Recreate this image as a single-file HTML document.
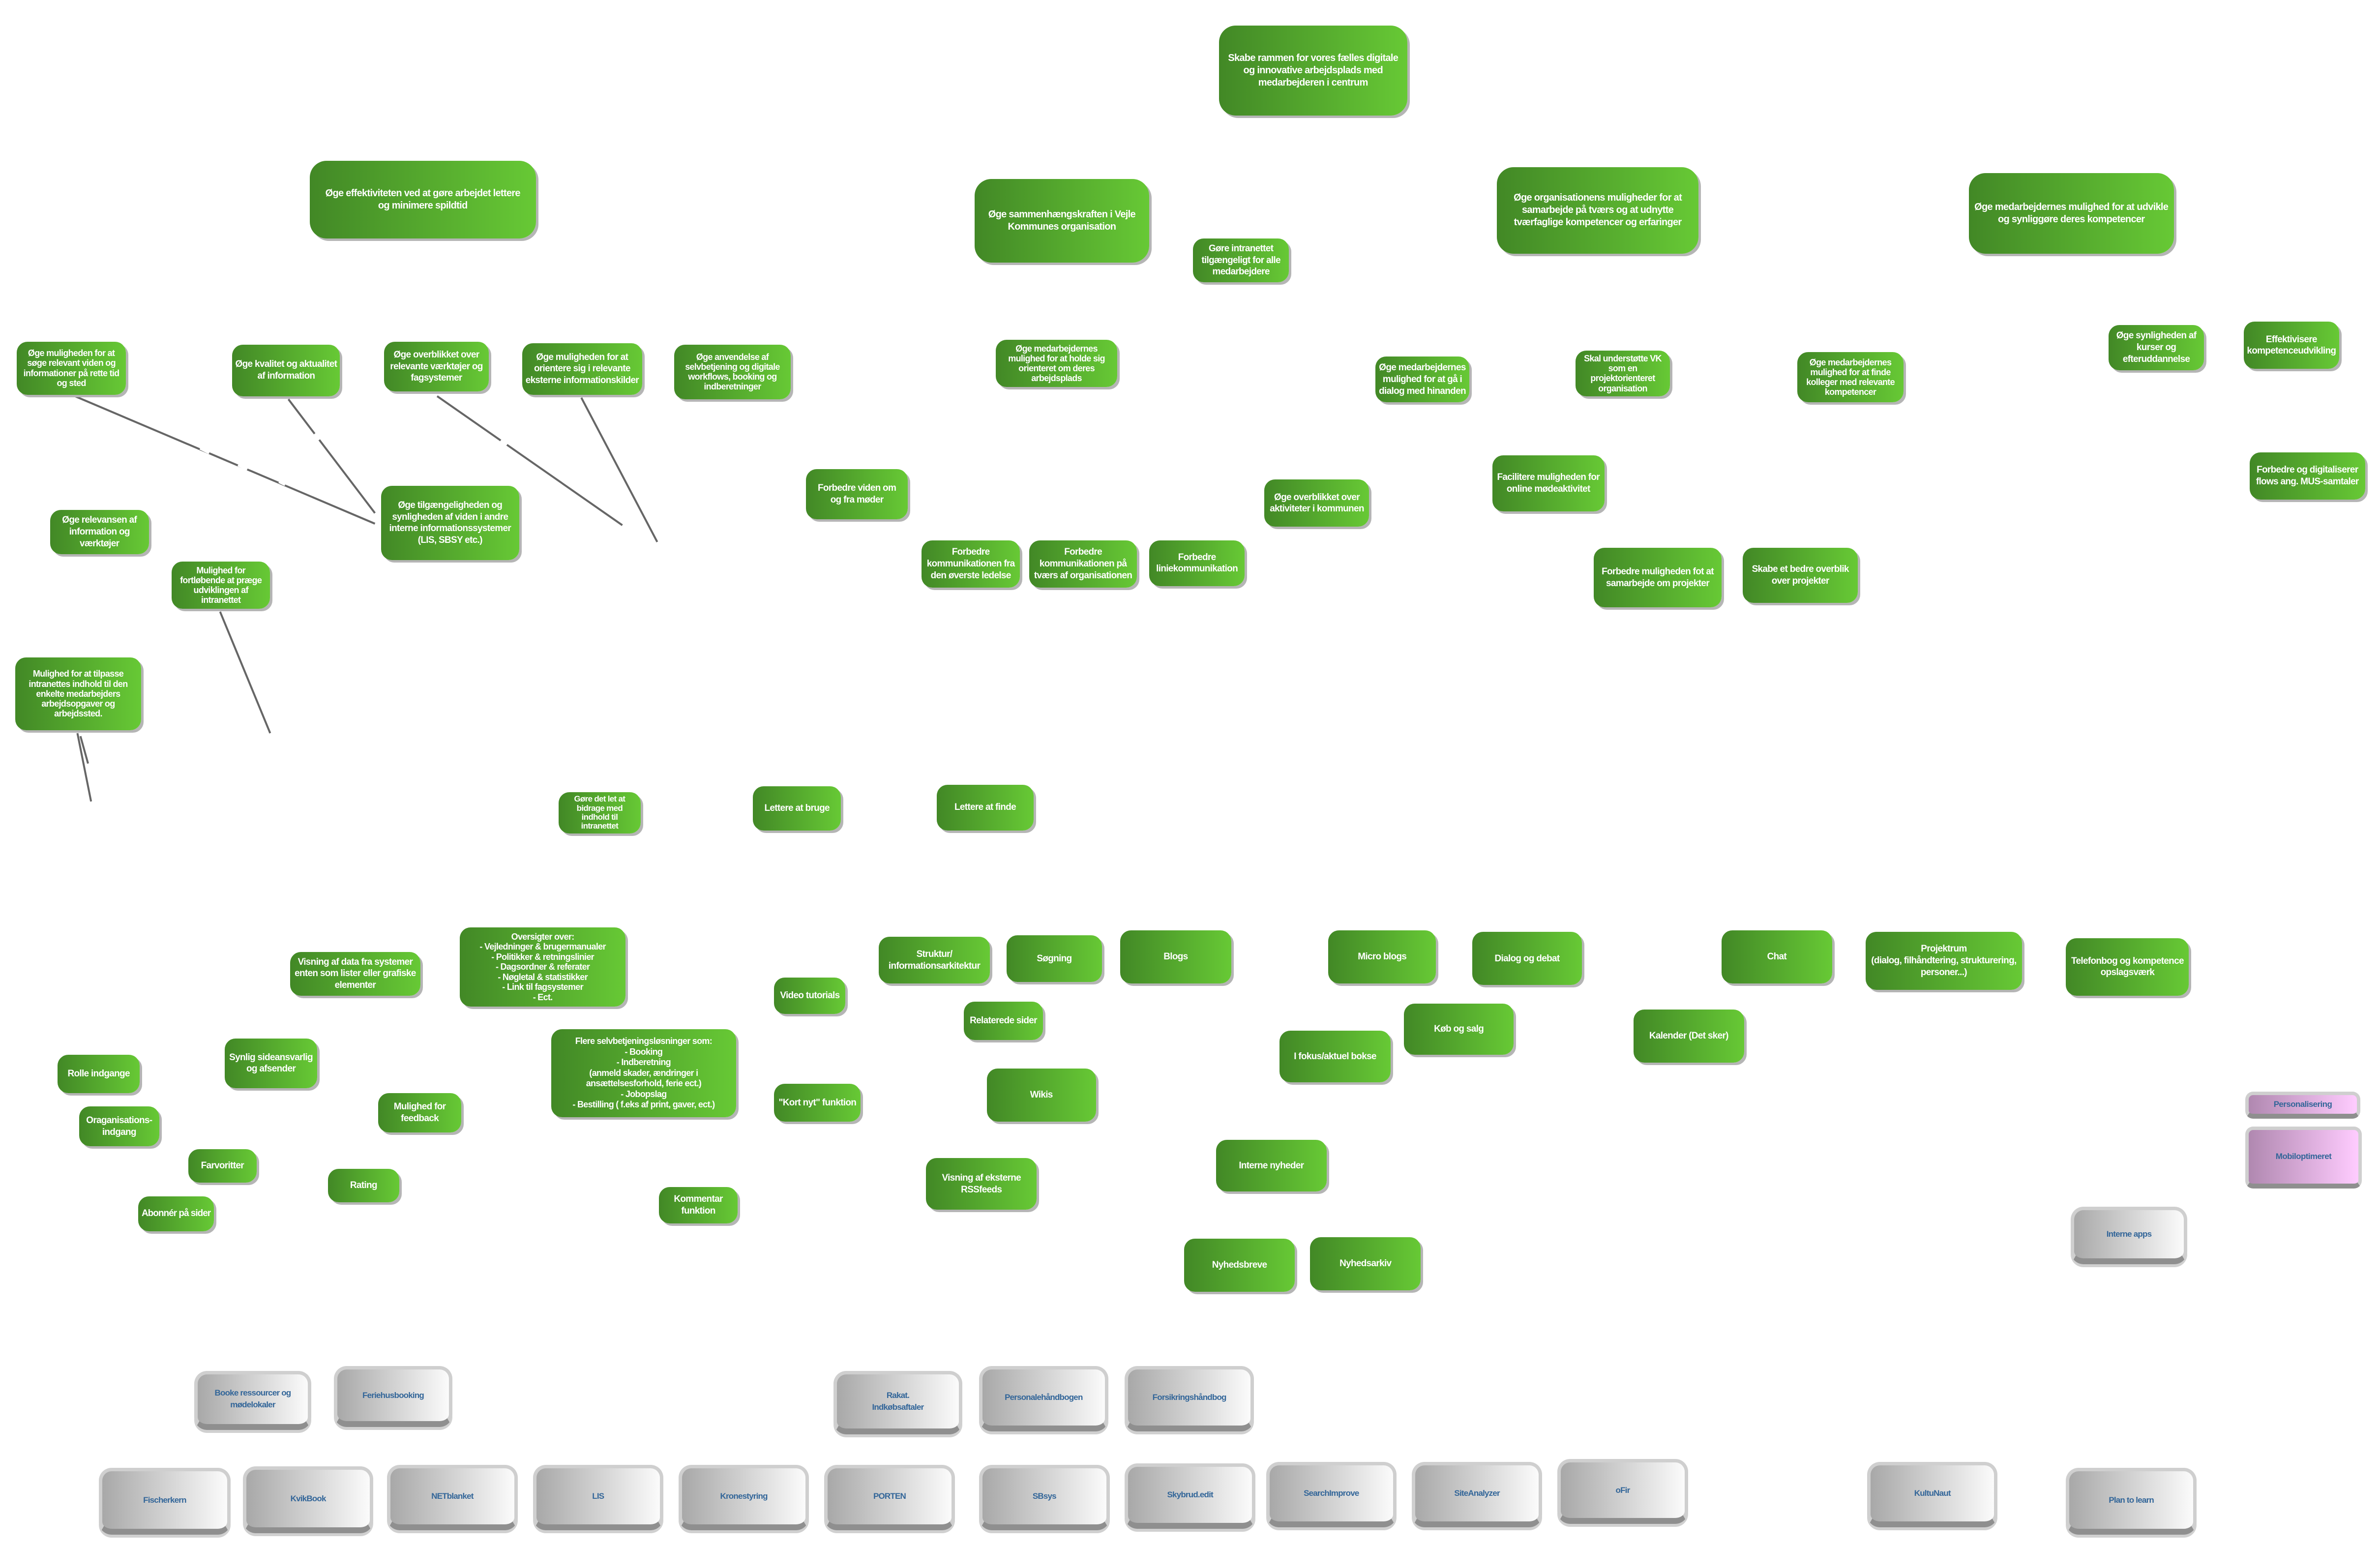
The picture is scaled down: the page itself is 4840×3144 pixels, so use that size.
<!DOCTYPE html>
<html><head><meta charset="utf-8">
<style>
html,body{margin:0;padding:0;background:#fff;}
#c{position:relative;width:4840px;height:3144px;overflow:hidden;background:#fff;font-family:"Liberation Sans",Arial,sans-serif;}
.b{position:absolute;left:calc(var(--x)*3.087px);top:calc(var(--y)*3.087px);width:calc((var(--r) - var(--x))*3.087px);height:calc((var(--t) - var(--y))*3.087px);
box-sizing:border-box;display:flex;align-items:center;justify-content:center;text-align:center;white-space:nowrap;}
.g{background:linear-gradient(90deg,#428826,#67c935);border-radius:22px;box-shadow:5px 5px 0 #b5b5b5;color:#fff;font-weight:bold;font-size:19px;line-height:1.25;letter-spacing:-0.7px;padding:0;}
.g.L{font-size:20px;border-radius:34px;}
.g.T{font-size:18px;line-height:1.12;}
.gr{background:linear-gradient(90deg,#a8a8a8,#fbfbfb);border:7px solid #cfcfcf;border-bottom:12px solid #8f8f8f;border-radius:26px;color:#336699;font-weight:bold;font-size:17px;letter-spacing:-0.8px;line-height:1.4;box-shadow:0 6px 0 #d0d0d0;}
.pk{background:linear-gradient(90deg,#b088b0,#ffccff);border:7px solid #cfcfcf;border-bottom:10px solid #8f8f8f;border-radius:16px;color:#336699;font-weight:bold;font-size:17px;letter-spacing:-0.6px;}
svg{position:absolute;left:0;top:0;}
</style></head><body><div id="c">
<svg width="4840" height="3144" viewBox="0 0 1568 1018.5" preserveAspectRatio="none">
<g stroke="#666" stroke-width="1.3" fill="none">
<line x1="47" y1="260" x2="247" y2="345"/>
<line x1="190" y1="263" x2="247" y2="338"/>
<line x1="288" y1="261" x2="410" y2="346"/>
<line x1="383" y1="262" x2="433" y2="357"/>
<line x1="145" y1="403" x2="178" y2="483"/>
<line x1="51" y1="483" x2="60" y2="528"/>
<line x1="53" y1="485" x2="58" y2="503"/>
</g>
<g stroke="#fff" stroke-width="2.5">
<line x1="132" y1="295" x2="138" y2="298"/><line x1="157" y1="306" x2="163" y2="309"/><line x1="184" y1="317" x2="188" y2="319"/>
<line x1="207" y1="286" x2="210" y2="290"/><line x1="330" y1="290" x2="334" y2="293"/>
</g>
</svg>

<div class="b g L" style="--x:803;--y:17;--r:927;--t:76">Skabe rammen for vores fælles digitale<br>og innovative arbejdsplads med<br>medarbejderen i centrum</div>
<div class="b g L" style="--x:204;--y:106;--r:353;--t:157">Øge effektiviteten ved at gøre arbejdet lettere<br>og minimere spildtid</div>
<div class="b g L" style="--x:642;--y:118;--r:757;--t:173">Øge sammenhængskraften i Vejle<br>Kommunes organisation</div>
<div class="b g" style="--x:786;--y:157;--r:849;--t:186">Gøre intranettet<br>tilgængeligt for alle<br>medarbejdere</div>
<div class="b g L" style="--x:986;--y:110;--r:1119;--t:167">Øge organisationens muligheder for at<br>samarbejde på tværs og at udnytte<br>tværfaglige kompetencer og erfaringer</div>
<div class="b g L" style="--x:1297;--y:114;--r:1432;--t:167">Øge medarbejdernes mulighed for at udvikle<br>og synliggøre deres kompetencer</div>

<div class="b g T" style="--x:11;--y:225;--r:83;--t:260">Øge muligheden for at<br>søge relevant viden og<br>informationer på rette tid<br>og sted</div>
<div class="b g" style="--x:153;--y:227;--r:224;--t:261">Øge kvalitet og aktualitet<br>af information</div>
<div class="b g" style="--x:253;--y:225;--r:322;--t:258">Øge overblikket over<br>relevante værktøjer og<br>fagsystemer</div>
<div class="b g" style="--x:344;--y:226;--r:423;--t:260">Øge muligheden for at<br>orientere sig i relevante<br>eksterne informationskilder</div>
<div class="b g T" style="--x:444;--y:227;--r:521;--t:263">Øge anvendelse af<br>selvbetjening og digitale<br>workflows, booking og<br>indberetninger</div>
<div class="b g T" style="--x:656;--y:224;--r:736;--t:255">Øge medarbejdernes<br>mulighed for at holde sig<br>orienteret om deres<br>arbejdsplads</div>
<div class="b g" style="--x:906;--y:235;--r:968;--t:265">Øge medarbejdernes<br>mulighed for at gå i<br>dialog med hinanden</div>
<div class="b g T" style="--x:1038;--y:231;--r:1100;--t:261">Skal understøtte VK<br>som en<br>projektorienteret<br>organisation</div>
<div class="b g T" style="--x:1184;--y:232;--r:1254;--t:265">Øge medarbejdernes<br>mulighed for at finde<br>kolleger med relevante<br>kompetencer</div>
<div class="b g" style="--x:1389;--y:214;--r:1452;--t:244">Øge synligheden af<br>kurser og<br>efteruddannelse</div>
<div class="b g" style="--x:1478;--y:212;--r:1541;--t:243">Effektivisere<br>kompetenceudvikling</div>
<div class="b g" style="--x:1482;--y:298;--r:1558;--t:329">Forbedre og digitaliserer<br>flows ang. MUS-samtaler</div>

<div class="b g" style="--x:251;--y:320;--r:342;--t:369">Øge tilgængeligheden og<br>synligheden af viden i andre<br>interne informationssystemer<br>(LIS, SBSY etc.)</div>
<div class="b g" style="--x:33;--y:336;--r:98;--t:365">Øge relevansen af<br>information og<br>værktøjer</div>
<div class="b g T" style="--x:113;--y:370;--r:178;--t:401">Mulighed for<br>fortløbende at præge<br>udviklingen af<br>intranettet</div>
<div class="b g T" style="--x:10;--y:433;--r:93;--t:481">Mulighed for at tilpasse<br>intranettes indhold til den<br>enkelte medarbejders<br>arbejdsopgaver og<br>arbejdssted.</div>
<div class="b g" style="--x:531;--y:309;--r:598;--t:342">Forbedre viden om<br>og fra møder</div>
<div class="b g" style="--x:607;--y:356;--r:672;--t:387">Forbedre<br>kommunikationen fra<br>den øverste ledelse</div>
<div class="b g" style="--x:678;--y:356;--r:749;--t:387">Forbedre<br>kommunikationen på<br>tværs af organisationen</div>
<div class="b g" style="--x:757;--y:356;--r:820;--t:386">Forbedre<br>liniekommunikation</div>
<div class="b g" style="--x:833;--y:316;--r:902;--t:347">Øge overblikket over<br>aktiviteter i kommunen</div>
<div class="b g" style="--x:983;--y:300;--r:1057;--t:337">Facilitere muligheden for<br>online mødeaktivitet</div>
<div class="b g" style="--x:1050;--y:361;--r:1134;--t:400">Forbedre muligheden fot at<br>samarbejde om projekter</div>
<div class="b g" style="--x:1148;--y:361;--r:1224;--t:397">Skabe et bedre overblik<br>over projekter</div>

<div class="b g" style="--x:368;--y:522;--r:422;--t:549;font-size:17px;line-height:1.08">Gøre det let at<br>bidrage med<br>indhold til<br>intranettet</div>
<div class="b g" style="--x:496;--y:518;--r:554;--t:547">Lettere at bruge</div>
<div class="b g" style="--x:617;--y:517;--r:681;--t:547">Lettere at finde</div>

<div class="b g" style="--x:191;--y:627;--r:277;--t:656">Visning af data fra systemer<br>enten som lister eller grafiske<br>elementer</div>
<div class="b g" style="--x:303;--y:611;--r:412;--t:663;font-size:18px;line-height:1.14">Oversigter over:<br>- Vejledninger &amp; brugermanualer<br>- Politikker &amp; retningslinier<br>- Dagsordner &amp; referater<br>- Nøgletal &amp; statistikker<br>- Link til fagsystemer<br>- Ect.</div>
<div class="b g" style="--x:363;--y:678;--r:485;--t:736;font-size:18px;line-height:1.2">Flere selvbetjeningsløsninger som:<br>- Booking<br>- Indberetning<br>(anmeld skader, ændringer i<br>ansættelsesforhold, ferie ect.)<br>- Jobopslag<br>- Bestilling ( f.eks af print, gaver, ect.)</div>
<div class="b g" style="--x:510;--y:644;--r:557;--t:668">Video tutorials</div>
<div class="b g" style="--x:579;--y:617;--r:652;--t:648">Struktur/<br>informationsarkitektur</div>
<div class="b g" style="--x:663;--y:616;--r:726;--t:647">Søgning</div>
<div class="b g" style="--x:738;--y:613;--r:811;--t:648">Blogs</div>
<div class="b g" style="--x:635;--y:660;--r:687;--t:685">Relaterede sider</div>
<div class="b g" style="--x:650;--y:704;--r:722;--t:739">Wikis</div>
<div class="b g" style="--x:510;--y:714;--r:567;--t:739">"Kort nyt" funktion</div>
<div class="b g" style="--x:610;--y:763;--r:683;--t:797">Visning af eksterne<br>RSSfeeds</div>
<div class="b g" style="--x:875;--y:613;--r:946;--t:648">Micro blogs</div>
<div class="b g" style="--x:970;--y:614;--r:1042;--t:649">Dialog og debat</div>
<div class="b g" style="--x:1134;--y:613;--r:1207;--t:648">Chat</div>
<div class="b g" style="--x:1229;--y:614;--r:1332;--t:652">Projektrum<br>(dialog, filhåndtering, strukturering,<br>personer...)</div>
<div class="b g" style="--x:1361;--y:618;--r:1442;--t:656">Telefonbog og kompetence<br>opslagsværk</div>
<div class="b g" style="--x:925;--y:661;--r:997;--t:695">Køb og salg</div>
<div class="b g" style="--x:843;--y:679;--r:916;--t:713">I fokus/aktuel bokse</div>
<div class="b g" style="--x:1076;--y:665;--r:1149;--t:700">Kalender (Det sker)</div>
<div class="b g" style="--x:801;--y:751;--r:874;--t:785">Interne nyheder</div>
<div class="b g" style="--x:780;--y:816;--r:853;--t:851">Nyhedsbreve</div>
<div class="b g" style="--x:863;--y:815;--r:936;--t:850">Nyhedsarkiv</div>

<div class="b g" style="--x:38;--y:695;--r:92;--t:720">Rolle indgange</div>
<div class="b g" style="--x:148;--y:684;--r:209;--t:717">Synlig sideansvarlig<br>og afsender</div>
<div class="b g" style="--x:52;--y:729;--r:105;--t:755">Oraganisations-<br>indgang</div>
<div class="b g" style="--x:249;--y:720;--r:304;--t:746">Mulighed for<br>feedback</div>
<div class="b g" style="--x:124;--y:757;--r:169;--t:779">Farvoritter</div>
<div class="b g" style="--x:216;--y:770;--r:263;--t:792">Rating</div>
<div class="b g" style="--x:91;--y:788;--r:141;--t:811;letter-spacing:-1px">Abonnér på sider</div>
<div class="b g" style="--x:434;--y:782;--r:486;--t:806">Kommentar<br>funktion</div>

<div class="b pk" style="--x:1479;--y:719;--r:1555;--t:737">Personalisering</div>
<div class="b pk" style="--x:1479;--y:742;--r:1556;--t:783">Mobiloptimeret</div>

<div class="b gr" style="--x:1364;--y:795;--r:1441;--t:833">Interne apps</div>
<div class="b gr" style="--x:128;--y:903;--r:205;--t:942">Booke ressourcer og<br>mødelokaler</div>
<div class="b gr" style="--x:220;--y:900;--r:298;--t:940">Feriehusbooking</div>
<div class="b gr" style="--x:549;--y:903;--r:634;--t:945">Rakat.<br>Indkøbsaftaler</div>
<div class="b gr" style="--x:645;--y:900;--r:730;--t:943">Personalehåndbogen</div>
<div class="b gr" style="--x:741;--y:900;--r:826;--t:943">Forsikringshåndbog</div>

<div class="b gr" style="--x:65;--y:967;--r:152;--t:1011">Fischerkern</div>
<div class="b gr" style="--x:160;--y:966;--r:246;--t:1010">KvikBook</div>
<div class="b gr" style="--x:255;--y:965;--r:341;--t:1008">NETblanket</div>
<div class="b gr" style="--x:351;--y:965;--r:437;--t:1008">LIS</div>
<div class="b gr" style="--x:447;--y:965;--r:533;--t:1008">Kronestyring</div>
<div class="b gr" style="--x:543;--y:965;--r:629;--t:1008">PORTEN</div>
<div class="b gr" style="--x:645;--y:965;--r:731;--t:1008">SBsys</div>
<div class="b gr" style="--x:741;--y:964;--r:827;--t:1007">Skybrud.edit</div>
<div class="b gr" style="--x:834;--y:963;--r:920;--t:1006">SearchImprove</div>
<div class="b gr" style="--x:930;--y:963;--r:1016;--t:1006">SiteAnalyzer</div>
<div class="b gr" style="--x:1026;--y:961;--r:1112;--t:1004">oFir</div>
<div class="b gr" style="--x:1230;--y:963;--r:1316;--t:1006">KultuNaut</div>
<div class="b gr" style="--x:1361;--y:967;--r:1447;--t:1011">Plan to learn</div>
</div></body></html>
